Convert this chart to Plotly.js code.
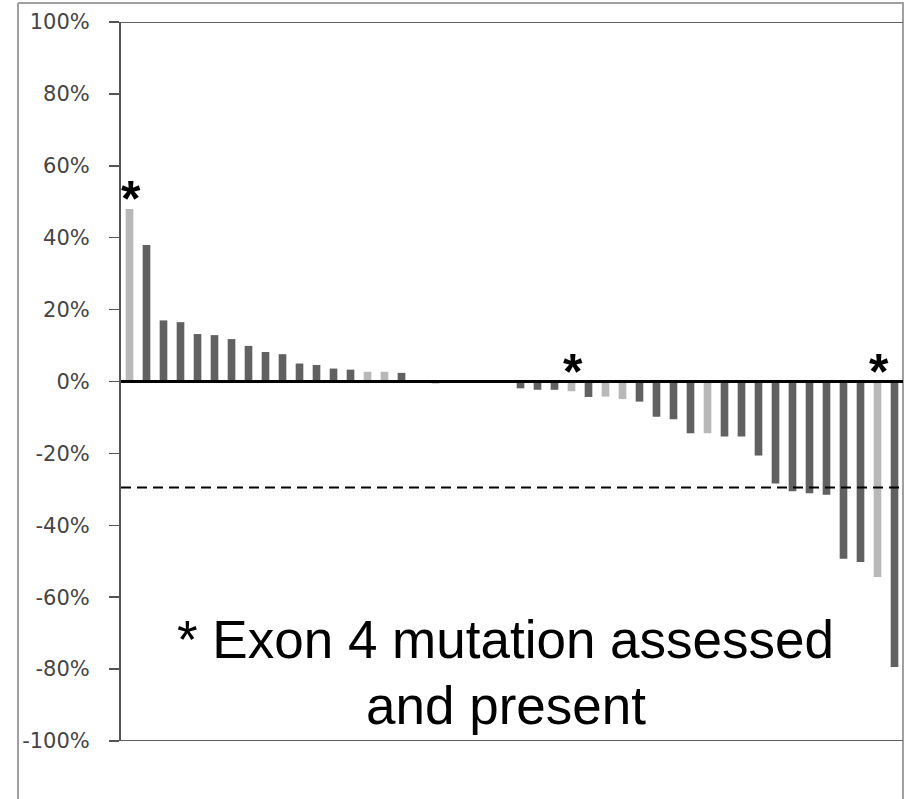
<!DOCTYPE html>
<html>
<head>
<meta charset="utf-8">
<script src="https://cdn.plot.ly/plotly-3.0.1.min.js"></script>
<style>
  html, body { margin: 0; padding: 0; background: #fff; }
  #chart { width: 905px; height: 799px; }
</style>
</head>
<body>
<div id="chart"></div>
<script>
// Patient index (waterfall order)
const patients = Array.from({length: 46}, (_, i) => i + 1);

// Best % change from baseline (fraction)
const changes = [
  0.48, 0.38, 0.17, 0.165, 0.132, 0.129, 0.118, 0.099, 0.082, 0.076,
  0.050, 0.046, 0.036, 0.033, 0.027, 0.027, 0.024, 0.003, -0.005, 0,
  0, 0, 0, -0.019, -0.023, -0.023, -0.027, -0.043, -0.042, -0.049,
  -0.056, -0.098, -0.105, -0.144, -0.144, -0.153, -0.153, -0.206, -0.284, -0.305,
  -0.311, -0.315, -0.493, -0.502, -0.544, -0.794
];

// Exon 4 status: 'P' = assessed and mutation present, 'A' = assessed, 'N' = not assessed
const exon4 = [
  'P','N','N','N','N','N','N','N','N','N',
  'N','N','N','N','A','A','N','N','N','N',
  'N','N','N','N','N','N','P','N','A','A',
  'N','N','N','N','A','N','N','N','N','N',
  'N','N','N','N','P','N'
];

const yTickVals = [1, 0.8, 0.6, 0.4, 0.2, 0, -0.2, -0.4, -0.6, -0.8, -1];
const yTickText = ['100%', '80%', '60%', '40%', '20%', '0%', '-20%', '-40%', '-60%', '-80%', '-100%'];
const threshold = -0.295;
const noteLines = ['* Exon 4 mutation assessed', 'and present'];

const DARK = '#616161', LIGHT = '#b8b8b8';
const colors = exon4.map(s => (s === 'N' ? DARK : LIGHT));

const trace = {
  type: 'bar',
  x: patients,
  y: changes,
  width: 0.45,
  marker: { color: colors, line: { width: 0 } },
  hoverinfo: 'x+y'
};

const annotations = [];
patients.forEach((p, i) => {
  if (exon4[i] === 'P') {
    annotations.push({
      x: p, y: Math.max(changes[i], 0), xref: 'x', yref: 'y',
      text: '*', showarrow: false, yanchor: 'bottom', xanchor: 'center',
      yshift: -20, xshift: 1,
      font: { family: 'Liberation Sans, Arial, sans-serif', size: 50, color: '#000', weight: 'bold' }
    });
  }
});
annotations.push({
  x: 0.492, xref: 'paper', y: -0.7184, yref: 'y', text: noteLines[0], showarrow: false,
  xanchor: 'center', yanchor: 'middle',
  font: { family: 'Liberation Sans, Arial, sans-serif', size: 53, color: '#000' }
});
annotations.push({
  x: 0.492, xref: 'paper', y: -0.9017, yref: 'y', text: noteLines[1], showarrow: false,
  xanchor: 'center', yanchor: 'middle',
  font: { family: 'Liberation Sans, Arial, sans-serif', size: 53, color: '#000' }
});

const plotW = 782, plotH = 719;
const fx = px => (px - 121) / plotW;
const fy = py => (741 - py) / plotH;

const shapes = [
  // outer frame
  { type: 'line', xref: 'paper', yref: 'paper', x0: fx(18), x1: fx(18), y0: fy(3), y1: fy(805), line: { color: '#a0a0a0', width: 2 } },
  { type: 'line', xref: 'paper', yref: 'paper', x0: fx(18), x1: fx(904), y0: fy(3), y1: fy(3), line: { color: '#a0a0a0', width: 2 } },
  { type: 'line', xref: 'paper', yref: 'paper', x0: fx(903), x1: fx(903), y0: fy(3), y1: fy(805), line: { color: '#a0a0a0', width: 2 } },
  // plot top and bottom borders
  { type: 'line', xref: 'paper', yref: 'y', x0: 0, x1: 1, y0: 1, y1: 1, line: { color: '#606060', width: 2 } },
  { type: 'line', xref: 'paper', yref: 'y', x0: 0, x1: 1, y0: -1, y1: -1, line: { color: '#606060', width: 2 } },
  // zero line
  { type: 'line', xref: 'paper', yref: 'y', x0: 0, x1: 1, y0: 0, y1: 0, line: { color: '#000', width: 3 } },
  // threshold dashed line
  { type: 'line', xref: 'paper', yref: 'y', x0: 0, x1: 1, y0: threshold, y1: threshold, line: { color: '#000', width: 2, dash: '10px,6px' } }
];

const layout = {
  width: 905, height: 799,
  margin: { l: 121, r: 2, t: 22, b: 58, pad: 0 },
  paper_bgcolor: '#fff', plot_bgcolor: '#fff',
  showlegend: false,
  xaxis: { range: [0.5, 46.5], visible: false, fixedrange: true },
  yaxis: {
    range: [-1, 1], tickvals: yTickVals, ticktext: yTickText,
    showgrid: false, zeroline: false,
    showline: true, linecolor: '#555', linewidth: 2,
    ticks: 'outside', ticklen: 10, tickcolor: '#555', tickwidth: 1.5,
    ticklabelstandoff: 15,
    tickfont: { family: 'DejaVu Sans, Verdana, sans-serif', size: 21, color: '#454545' },
    fixedrange: true
  },
  shapes: shapes,
  annotations: annotations
};

Plotly.newPlot('chart', [trace], layout, { displayModeBar: false, staticPlot: true });
</script>
</body>
</html>
